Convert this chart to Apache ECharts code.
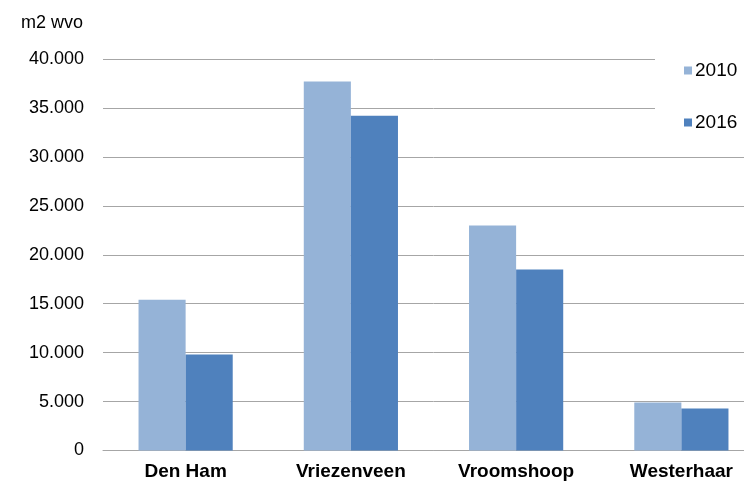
<!DOCTYPE html>
<html>
<head>
<meta charset="utf-8">
<script src="https://cdn.jsdelivr.net/npm/echarts@6/dist/echarts.min.js"></script>
<style>
  html, body { margin: 0; padding: 0; background: #fff; overflow: hidden; width: 744px; height: 484px; }
  /* the plot runs past the right edge, so the canvas is a little wider than the page */
  #chart { width: 764px; height: 484px; }
</style>
</head>
<body>
<div id="chart"></div>
<script>
// Floor area (m2 wvo) per village, 2010 vs 2016
const villages = ['Den Ham', 'Vriezenveen', 'Vroomshoop', 'Westerhaar'];
const years = ['2010', '2016'];
const values2010 = [15400, 37700, 23000, 4900];
const values2016 = [9800, 34200, 18500, 4300];
const yTicks = [0, 5000, 10000, 15000, 20000, 25000, 30000, 35000, 40000];

const FONT = '"Liberation Sans", Arial, sans-serif';

function fmtThousands(v) {
  return String(v).replace(/\B(?=(\d{3})+(?!\d))/g, '.');
}

const chart = echarts.init(document.getElementById('chart'), null, { renderer: 'canvas' });
chart.setOption({
  animation: false,
  backgroundColor: '#fff',
  textStyle: { fontFamily: FONT },
  title: {
    text: 'm2 wvo',
    left: 16,
    top: 9,
    textStyle: { fontFamily: FONT, fontSize: 18, fontWeight: 'normal', color: '#000' }
  },
  legend: {
    orient: 'vertical',
    left: 655,
    top: 47,
    padding: [14, 20, 14, 29],
    backgroundColor: '#fff',
    itemWidth: 8,
    itemHeight: 8,
    itemGap: 33,
    icon: 'rect',
    data: years,
    textStyle: { fontFamily: FONT, fontSize: 19, color: '#000', padding: [0, 0, 0, -2] }
  },
  grid: { left: 103, top: 59, right: 0, height: 391.5 },
  xAxis: {
    type: 'category',
    data: villages,
    axisLine: { lineStyle: { color: '#a6a6a6', width: 1 } },
    axisTick: { show: false },
    axisLabel: { fontFamily: FONT, fontSize: 19, fontWeight: 'bold', color: '#000', margin: 12 }
  },
  yAxis: {
    type: 'value',
    min: yTicks[0],
    max: yTicks[yTicks.length - 1],
    interval: yTicks[1] - yTicks[0],
    axisLine: { show: false },
    axisTick: { show: false },
    splitLine: { lineStyle: { color: '#a6a6a6', width: 1 } },
    axisLabel: { fontFamily: FONT, fontSize: 18, color: '#000', margin: 19, formatter: fmtThousands }
  },
  series: [
    {
      name: years[0],
      type: 'bar',
      data: values2010,
      barGap: '0%',
      barCategoryGap: '43%',
      itemStyle: { color: '#95b3d7' }
    },
    {
      name: years[1],
      type: 'bar',
      data: values2016,
      barGap: '0%',
      barCategoryGap: '43%',
      itemStyle: { color: '#4f81bd' }
    }
  ]
});
</script>
</body>
</html>
